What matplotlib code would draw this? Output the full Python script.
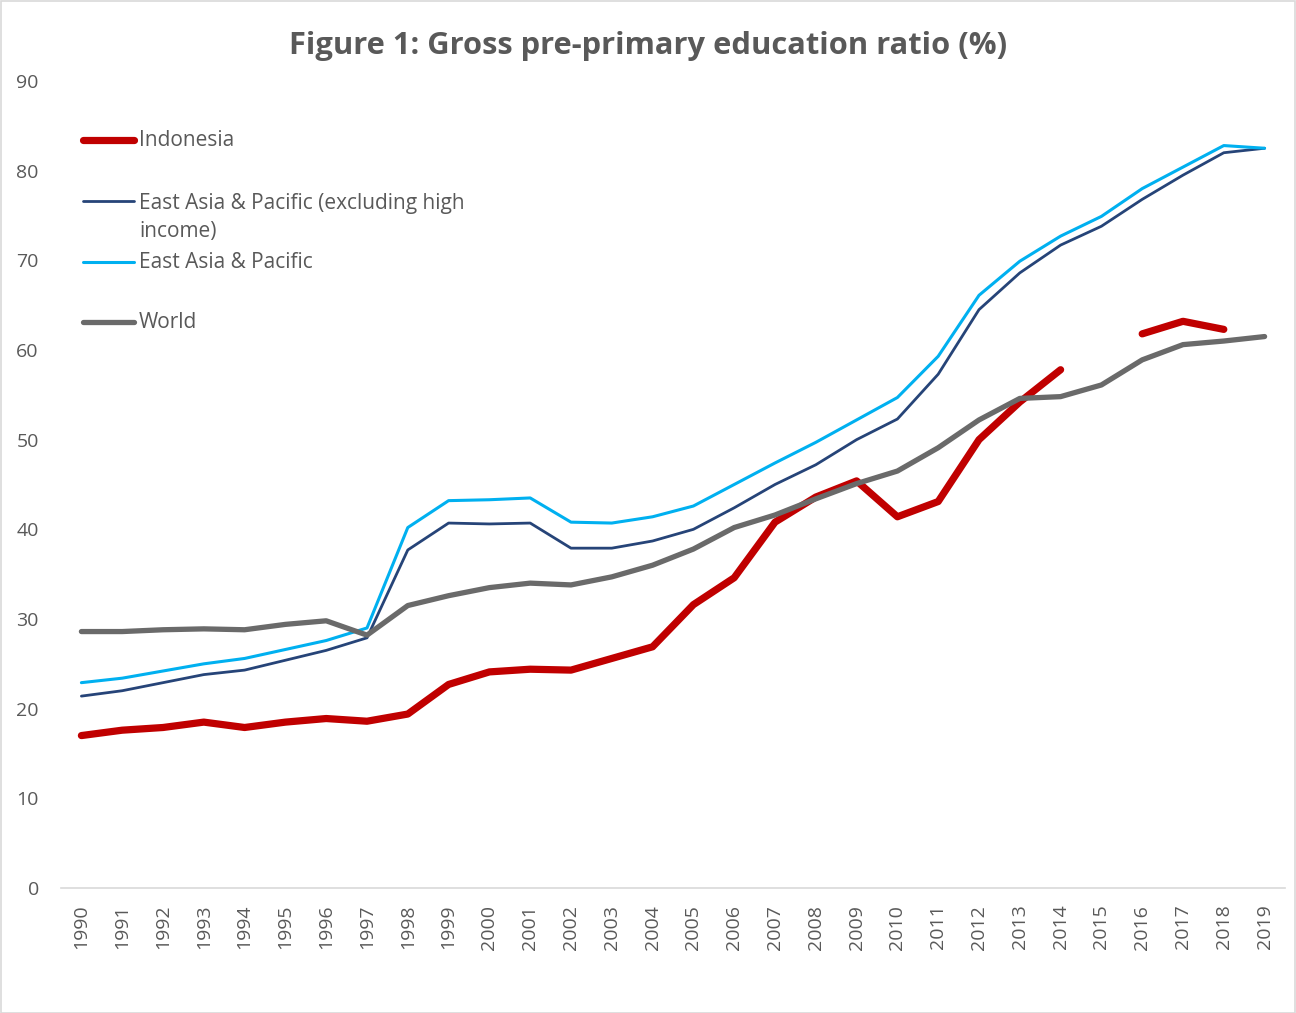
import numpy as np
import matplotlib
matplotlib.use("Agg")
import matplotlib.pyplot as plt
from matplotlib.lines import Line2D
from matplotlib.patches import Rectangle

years = [str(y) for y in range(1990, 2020)]

indonesia = [17.0, 17.6, 17.9, 18.5, 17.9, 18.5, 18.9, 18.6, 19.4, 22.7,
             24.1, 24.4, 24.3, 25.6, 26.9, 31.6, 34.6, 40.8, 43.6, 45.4,
             41.4, 43.1, 50.0, 54.2, 57.8, np.nan, 61.8, 63.2, 62.3, np.nan]

eap_excl = [21.4, 22.0, 22.9, 23.8, 24.3, 25.4, 26.5, 27.9, 37.7, 40.7,
            40.6, 40.7, 37.9, 37.9, 38.7, 40.0, 42.4, 45.0, 47.2, 50.0,
            52.3, 57.3, 64.5, 68.6, 71.7, 73.8, 76.8, 79.5, 82.0, 82.5]

eap = [22.9, 23.4, 24.2, 25.0, 25.6, 26.6, 27.6, 29.0, 40.2, 43.2,
       43.3, 43.5, 40.8, 40.7, 41.4, 42.6, 45.0, 47.4, 49.7, 52.2,
       54.7, 59.3, 66.1, 69.9, 72.7, 74.9, 78.0, 80.4, 82.8, 82.5]

world = [28.6, 28.6, 28.8, 28.9, 28.8, 29.4, 29.8, 28.2, 31.5, 32.6,
         33.5, 34.0, 33.8, 34.7, 36.0, 37.8, 40.2, 41.6, 43.4, 45.1,
         46.5, 49.1, 52.2, 54.6, 54.8, 56.1, 58.9, 60.6, 61.0, 61.5]

series_labels = ["Indonesia", "East Asia & Pacific (excluding high\nincome)",
                 "East Asia & Pacific", "World"]

plt.rcParams['font.family'] = ['Open Sans', 'DejaVu Sans']
TXT = "#595959"

W, H = 1296, 1013
fig = plt.figure(figsize=(W / 100, H / 100), dpi=100)
ax = fig.add_axes([61 / W, (H - 888) / H, (1285 - 61) / W, (888 - 81) / H])

x = np.arange(len(years))
styles = [
    (indonesia, "#C00000", 5.2),
    (eap_excl, "#264478", 2.0),
    (eap, "#00B0F0", 2.2),
    (world, "#6A6A6A", 3.8),
]
for (vals, col, lw) in styles:
    ax.plot(x, vals, color=col, lw=lw, solid_capstyle='round',
            solid_joinstyle='round')

ax.set_xlim(-0.5, len(years) - 0.5)
ax.set_ylim(0, 90)
ax.set_yticks(range(0, 91, 10))
ax.set_xticks(x)
ax.set_xticklabels(years, rotation=90)
ax.tick_params(axis='both', length=0, colors=TXT, labelsize=14)
ax.tick_params(axis='y', pad=16)
ax.tick_params(axis='x', pad=12)
for s in ['top', 'right', 'left']:
    ax.spines[s].set_visible(False)
ax.spines['bottom'].set_color('#D9D9D9')
ax.spines['bottom'].set_linewidth(1.2)

fig.text(648 / W, 1 - 46 / H, "Figure 1: Gross pre-primary education ratio (%)",
         ha='center', va='center', fontsize=22.2, fontweight='bold', color=TXT)

# legend (manual, Excel-like placement)
leg_y = [140, 201, 262, 322]
for (vals, col, lw), lab, yy in zip(styles, series_labels, leg_y):
    fy = 1 - yy / H
    fig.add_artist(Line2D([83 / W, 134 / W], [fy, fy], color=col, lw=lw,
                          solid_capstyle='round', transform=fig.transFigure))
    if '\n' in lab:
        fig.text(139 / W, fy + 8 / H, lab, ha='left', va='top',
                 fontsize=15, color=TXT, linespacing=1.45)
    else:
        fig.text(139 / W, fy, lab, ha='left', va='center',
                 fontsize=15, color=TXT)

fig.add_artist(Rectangle((0.5 / W, 0.5 / H), 1 - 1.5 / W, 1 - 1.5 / H,
                         transform=fig.transFigure, fill=False,
                         edgecolor='#D9D9D9', lw=1.2))

fig.savefig("out.png", dpi=100)
